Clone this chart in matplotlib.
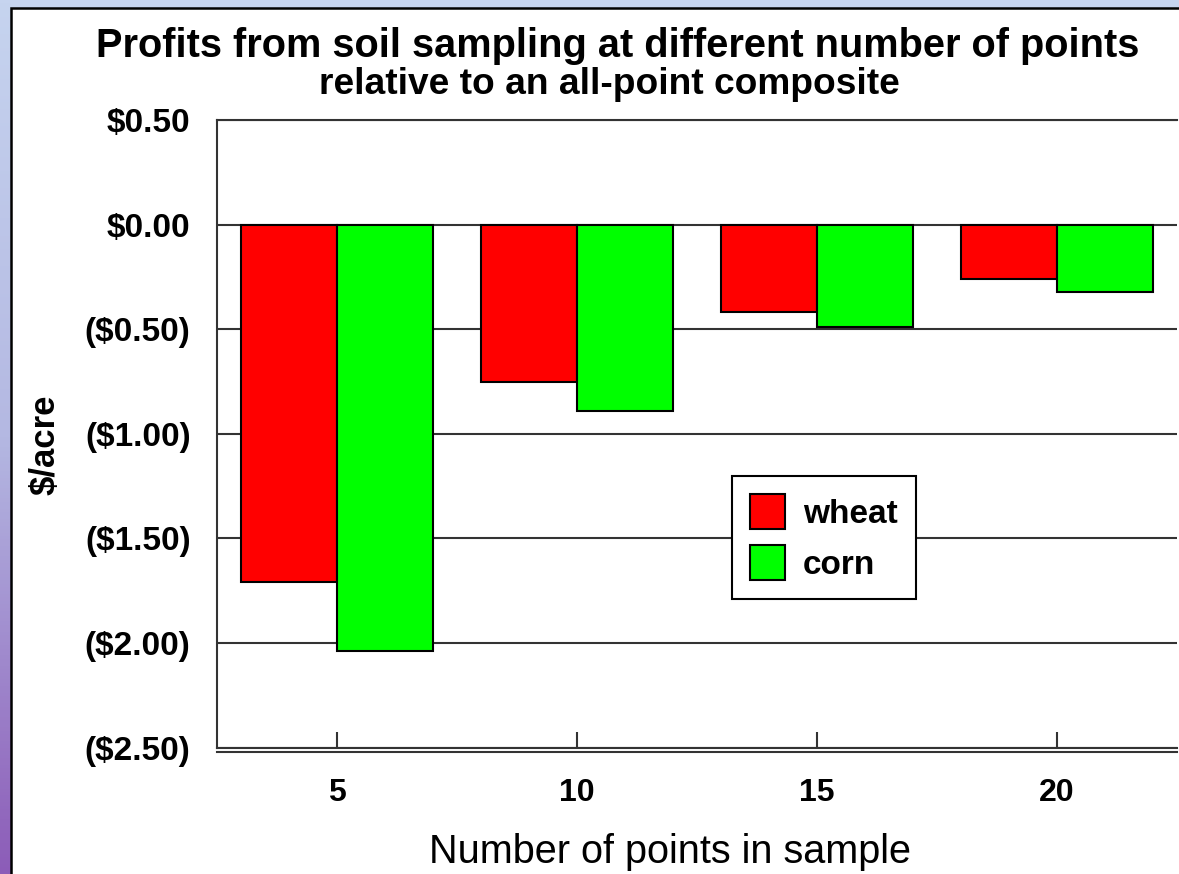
import matplotlib
matplotlib.use("Agg")
import matplotlib.pyplot as plt
from matplotlib.patches import Rectangle
from matplotlib.colors import LinearSegmentedColormap
import numpy as np

# data
points = ["5", "10", "15", "20"]
wheat = [-1.71, -0.75, -0.42, -0.26]
corn = [-2.04, -0.89, -0.49, -0.32]
yticks = [0.5, 0.0, -0.5, -1.0, -1.5, -2.0, -2.5]
ytick_labels = ["$0.50", "$0.00", "($0.50)", "($1.00)", "($1.50)", "($2.00)", "($2.50)"]

plt.rcParams['font.family'] = ['Liberation Sans', 'DejaVu Sans']

W, H = 1179, 874
fig = plt.figure(figsize=(W / 100, H / 100), dpi=100)
fig.patch.set_facecolor('#c6d4ef')

# left gradient strip of the slide background
ax_bg = fig.add_axes([0, 0, 11 / W, 1], zorder=-2)
grad = np.linspace(0, 1, 256).reshape(-1, 1)
cmap = LinearSegmentedColormap.from_list('slide', ['#c6d4ef', '#b4b8e2', '#8c5cb8'])
ax_bg.imshow(grad, aspect='auto', cmap=cmap, extent=[0, 1, 1, 0])
ax_bg.set_axis_off()

# white panel with black frame
fig.patches.append(Rectangle((11 / W, -0.05), 1.2, (H - 8) / H + 0.05,
                             transform=fig.transFigure, facecolor='white',
                             edgecolor='black', linewidth=1.8, zorder=-1))

ax = fig.add_axes([217 / W, 1 - 747.7 / H, 960 / W, 627.7 / H], zorder=2)
ax.set_facecolor('white')

x = np.arange(len(points))
bw = 0.4
ax.bar(x - bw / 2, wheat, bw, color='#ff0000', edgecolor='black', linewidth=1.5,
       label='wheat', zorder=3)
ax.bar(x + bw / 2, corn, bw, color='#00ff00', edgecolor='black', linewidth=1.5,
       label='corn', zorder=3)

ax.set_xlim(-0.5, 3.5)
ax.set_ylim(-2.5, 0.5)
ax.set_yticks(yticks)
ax.set_yticklabels(ytick_labels, fontsize=24, fontweight='bold')
ax.set_xticks(x)
ax.set_xticklabels(points, fontsize=23, fontweight='bold')
ax.tick_params(axis='y', length=0, pad=19)
ax.tick_params(axis='x', direction='in', length=11.5, width=1.5, color='#333333', pad=22)
ax.yaxis.grid(True, color='#333333', linewidth=1.5, zorder=1)
ax.set_axisbelow(True)

for side in ['left', 'bottom', 'top']:
    ax.spines[side].set_color('#333333')
    ax.spines[side].set_linewidth(1.5)
ax.spines['right'].set_visible(False)
# double line under the plot
ax.plot([0, 1], [-0.007, -0.007], transform=ax.transAxes, color='#333333',
        linewidth=1.5, clip_on=False)

ax.set_xlabel("Number of points in sample", fontsize=28.5, labelpad=18)
ax.xaxis.label.set_x((670 - 217) / 960)
ax.set_ylabel("$/acre", fontsize=25, fontweight='bold', labelpad=17)
ax.yaxis.label.set_y((747.7 - 445) / 627.7)

fig.text(618 / W, 1 - 46 / H, "Profits from soil sampling at different number of points",
         ha='center', va='center', fontsize=28.6, fontweight='bold')
fig.text(609 / W, 1 - 84 / H, "relative to an all-point composite",
         ha='center', va='center', fontsize=26.7, fontweight='bold')

leg = ax.legend(loc='upper left', bbox_to_anchor=(0.536, 0.433),
                prop={'weight': 'bold', 'size': 24}, frameon=True, fancybox=False,
                handlelength=1.05, handleheight=1.24, borderpad=0.55,
                labelspacing=0.45, handletextpad=0.54, borderaxespad=0)
leg.get_frame().set_edgecolor('black')
leg.get_frame().set_linewidth(1.5)
leg.get_frame().set_alpha(1)

fig.savefig("out.png", dpi=100, facecolor=fig.get_facecolor())
